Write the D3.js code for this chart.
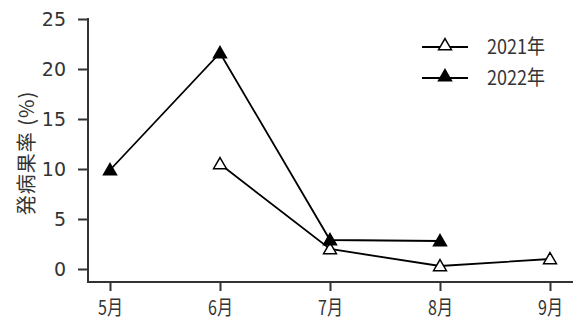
<!DOCTYPE html>
<html>
<head>
<meta charset="utf-8">
<script src="https://cdn.jsdelivr.net/npm/d3@7"></script>
<style>
  body { margin: 0; background: #fff; }
  svg { display: block; }
</style>
</head>
<body>
<div id="chart"></div>
<script>
var months = ["5月", "6月", "7月", "8月", "9月"];
var yTicks = [0, 5, 10, 15, 20, 25];
var seriesNames = ["2021年", "2022年"];
var values2021 = [null, 10.5, 2.0, 0.3, 1.0];
var values2022 = [9.9, 21.6, 2.9, 2.8, null];

var width = 576, height = 325;
var svg = d3.select("#chart").append("svg")
  .attr("width", width).attr("height", height);

var x = d3.scalePoint().domain(months).range([110, 550]);
var y = d3.scaleLinear().domain([0, 25]).range([269, 19]);

var axisColor = "#333";
var axisBottomY = 282, axisLeftX = 88;

// y axis
var gy = svg.append("g").attr("transform", "translate(" + axisLeftX + ",0)")
  .call(d3.axisLeft(y).tickValues(yTicks).tickSize(10).tickPadding(12));
gy.select(".domain").remove();
gy.append("line").attr("x1", 0).attr("x2", 0).attr("y1", y(25) - 1).attr("y2", axisBottomY)
  .attr("stroke", axisColor).attr("stroke-width", 2);
gy.selectAll(".tick line").attr("stroke", axisColor).attr("stroke-width", 2);
gy.selectAll(".tick text").attr("fill", axisColor)
  .style("font-family", "'DejaVu Sans', sans-serif").style("font-size", "19px");

// x axis
var gx = svg.append("g").attr("transform", "translate(0," + axisBottomY + ")")
  .call(d3.axisBottom(x).tickSize(9).tickPadding(6));
gx.select(".domain").remove();
gx.append("line").attr("x1", axisLeftX - 1).attr("x2", 573).attr("y1", 0).attr("y2", 0)
  .attr("stroke", axisColor).attr("stroke-width", 2);
gx.selectAll(".tick line").attr("stroke", axisColor).attr("stroke-width", 2);
gx.selectAll(".tick text").attr("fill", axisColor)
  .attr("y", 0).attr("dy", null)
  .attr("transform", "translate(0,33) scale(0.8,1)")
  .style("font-family", "'Noto Sans CJK JP', sans-serif").style("font-size", "20px");

// y label
svg.append("text")
  .attr("transform", "translate(34,153) rotate(-90)")
  .attr("text-anchor", "middle")
  .attr("fill", axisColor)
  .style("font-family", "'Noto Sans CJK JP', sans-serif").style("font-size", "20px")
  .style("letter-spacing", "1px")
  .text("発病果率 (%)");

var tri = d3.symbol().type(d3.symbolTriangle).size(72);

function drawSeries(vals, filled) {
  var pts = vals.map(function(v, i) { return { m: months[i], v: v }; })
    .filter(function(d) { return d.v !== null; });
  var line = d3.line().x(function(d) { return x(d.m); }).y(function(d) { return y(d.v); });
  svg.append("path").datum(pts).attr("d", line)
    .attr("fill", "none").attr("stroke", "#000").attr("stroke-width", 1.8);
  svg.selectAll(null).data(pts).enter().append("path")
    .attr("d", tri)
    .attr("transform", function(d) { return "translate(" + x(d.m) + "," + (y(d.v) + 1) + ")"; })
    .attr("fill", filled ? "#000" : "#fff")
    .attr("stroke", "#000").attr("stroke-width", 1.5);
}
drawSeries(values2021, false);
drawSeries(values2022, true);

// legend
var legend = svg.append("g");
seriesNames.forEach(function(name, i) {
  var ly = 47 + i * 31;
  legend.append("line").attr("x1", 422).attr("x2", 468).attr("y1", ly).attr("y2", ly)
    .attr("stroke", "#000").attr("stroke-width", 1.8);
  legend.append("path").attr("d", tri)
    .attr("transform", "translate(445," + (ly - 1) + ")")
    .attr("fill", i === 0 ? "#fff" : "#000")
    .attr("stroke", "#000").attr("stroke-width", 1.5);
  legend.append("text")
    .attr("transform", "translate(487," + (ly + 7) + ") scale(0.9,1)")
    .attr("fill", axisColor)
    .style("font-family", "'Noto Sans CJK JP', sans-serif").style("font-size", "20px")
    .text(name);
});
</script>
</body>
</html>
